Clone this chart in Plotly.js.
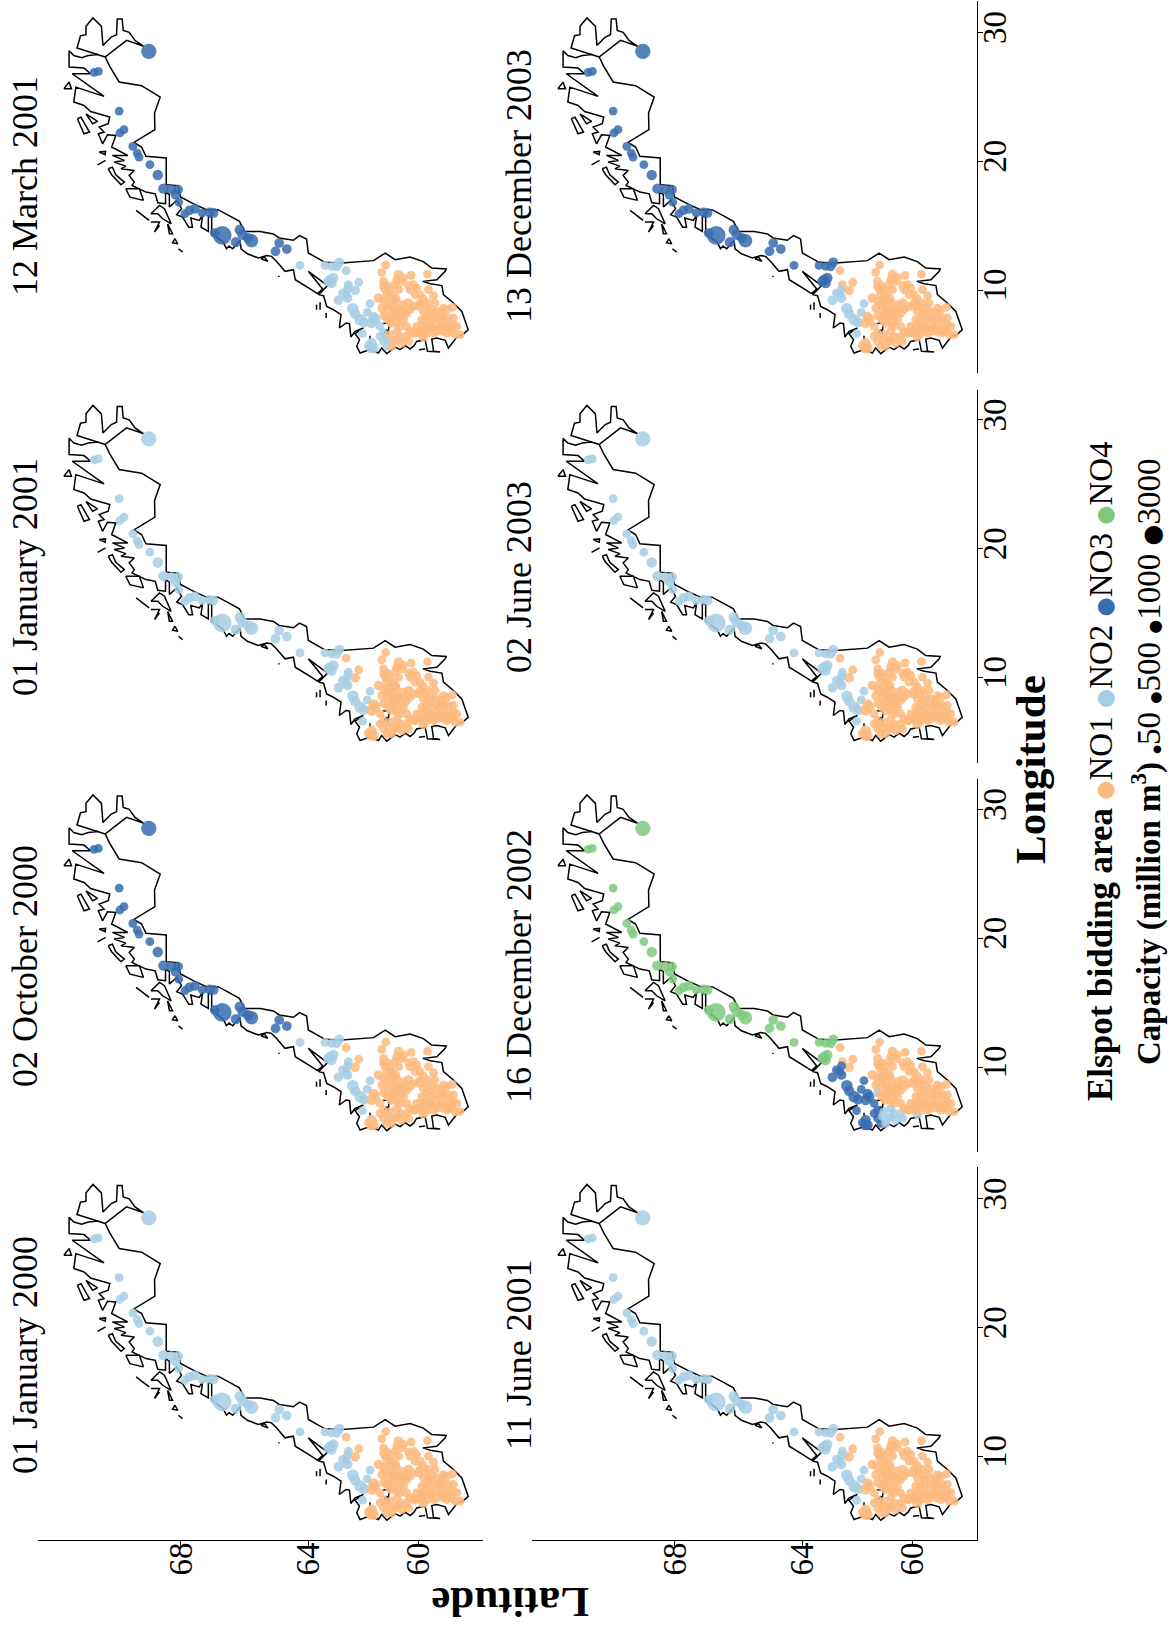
<!DOCTYPE html>
<html><head><meta charset="utf-8">
<script src="https://cdn.plot.ly/plotly-3.0.1.min.js"></script>
<style>html,body{margin:0;padding:0;background:#fff}</style></head>
<body><div id="chart" style="width:1173px;height:1630px"></div>
<script>
// Coastline and border of Norway, [latitude, longitude]; null breaks the line
const coastline = [
[70.09,28.09],[70.41,28.4],[70.62,28.58],[70.82,28.79],[70.73,29.74],[70.59,29.82],[70.59,30.47],[70.41,31.12],[70.19,30.47],[70.15,28.99],[69.93,29.64],[69.79,29.82],[69.77,31.04],[69.64,31.04],[69.61,30.16],[69.45,30.0],[69.29,29.38],[69.05,28.92],[69.52,29.38],[70.09,28.09],
[69.97,27.36],[69.72,26.15],[69.11,25.86],[68.59,24.98],[68.75,23.74],[68.74,22.45],[69.32,21.46],[69.11,21.1],[68.99,20.38],[68.42,20.25],[68.42,18.18],[68.08,18.10],[68.01,17.22],[67.64,16.70],[67.25,16.24],[66.9,16.24],[66.56,15.77],[66.24,15.33],[66.08,14.55],[65.59,14.55],[65.16,14.35],[64.97,14.04],[64.5,13.86],[64.3,14.22],[64.06,13.96],[64.0,12.87],[63.43,12.15],[62.85,12.1],[61.7,12.28],[61.27,12.87],[60.9,12.35],[60.33,12.56],[59.82,12.2],[59.49,11.71],[58.92,11.63],[58.96,11.45],[59.29,10.8],[59.84,10.67],[59.55,10.49],[59.09,10.34],[59.03,9.64],[58.63,8.99],[58.29,8.34],[58.03,6.92],[58.2,6.61],[58.49,6.35],[58.83,5.5],[58.96,6.09],[59.29,6.27],[59.49,6.19],[59.42,5.24],[59.16,5.19],[59.42,5.24],[59.66,5.24],[59.75,6.14],[60.08,6.01],[60.18,5.68],[60.33,5.42],[60.52,5.68],[60.71,5.37],[60.9,5.57],[61.21,5.06],[61.4,5.5],[61.52,5.11],[61.83,5.37],[62.19,5.11],[62.31,5.63],[62.21,6.14],[62.37,6.61],[62.07,7.05],[62.37,6.79],[62.52,6.35],[62.57,7.39],[62.69,7.44],[62.93,7.05],[62.87,8.08],[63.14,8.47],[63.37,8.73],[63.48,9.56],[63.65,9.64],[63.34,10.34],[64.0,11.45],[63.51,10.08],[63.69,9.72],[63.94,10.08],[64.44,10.8],[64.5,11.58],[64.78,11.45],[65.06,12.23],[65.22,12.61],[65.37,12.67],[65.64,12.48],[65.99,12.81],[66.19,13.2],[66.22,13.85],[66.45,13.2],[66.56,13.41],[66.64,13.2],[66.74,13.72],[67.09,14.37],[67.09,15.66],[67.19,15.74],[67.19,14.55],[67.41,14.88],[67.36,15.79],[67.46,15.4],[67.71,15.58],[67.66,14.88],[67.77,14.88],[67.95,15.66],[68.12,15.84],[67.98,16.31],[68.12,16.96],[68.33,16.44],[68.33,17.4],[68.44,17.6],[68.44,16.7],[68.66,16.77],[68.73,17.47],[68.99,17.6],[69.37,18.12],[69.31,18.38],[69.45,18.9],[69.31,19.28],[69.67,19.41],[69.54,19.62],[69.85,19.93],[69.58,20.06],[69.9,20.45],[69.49,20.45],[69.92,21.1],[69.81,22.0],[70.03,22.05],[70.16,21.35],[70.27,22.13],[70.12,22.26],[70.25,22.65],[70.01,22.91],[69.97,23.43],[70.25,23.68],[70.47,23.86],[70.64,24.33],[70.90,24.59],[70.85,25.75],[70.34,25.24],[70.12,25.03],[70.94,26.79],[70.47,26.79],[70.64,27.23],[71.02,27.31],[71.02,28.58],[70.90,28.21],[70.70,28.03],[70.53,28.21],[70.29,28.29],[70.09,28.09],null,
[71.15,25.63],[71.02,26.14],[70.96,25.63],[71.15,25.63],null,
[70.59,23.68],[70.29,23.09],[70.42,22.91],[70.59,23.68],null,
[70.81,23.3],[70.72,23.42],[70.5,22.26],[70.64,22.13],[70.81,23.3],null,
[70.25,20.71],[70.08,20.76],[70.09,20.5],[70.25,20.71],null,
[70.29,19.72],[70.08,20.06],null,
[70.01,19.41],[69.9,19.54],[69.81,18.95],[69.58,18.38],[69.67,18.17],[69.92,18.95],[70.01,19.41],null,
[69.54,17.86],[69.43,17.21],[69.06,16.96],[69.17,17.86],[69.54,17.86],null,
[69.26,16.18],[68.9,15.4],null,
[68.85,15.92],[68.61,16.57],[68.47,16.31],[68.28,15.14],[68.52,15.53],[68.66,15.92],[68.85,15.92],null,
[68.85,15.27],[68.61,15.27],[68.75,14.5],[68.61,15.01],null,
[68.38,15.14],[68.24,14.37],[68.33,14.37],[68.38,15.14],null,
[68.17,13.98],[68.09,13.59],[68.24,13.67],[68.17,13.98],null,
[68.07,13.2],[67.95,12.94],null,
[65.56,12.43],[65.34,12.22],[65.45,12.56],[65.56,12.43],null,
[63.72,8.86],[63.72,8.47],null,
[63.6,9.04],[63.6,8.47],null,
[63.39,8.21],[63.39,7.83],null,
[64.98,11.11],[64.98,11.01],null,
[61.36,7.39],[61.11,7.44],[61.17,6.53],[61.21,6.92],[61.31,6.66],null,
[61.83,6.45],[61.83,6.14],null,
[59.99,5.37],[59.75,5.42]
];

// Hydropower reservoirs grouped by how their bidding area changes: [lat, lon, capacity in million m3]
const groupA = [[68.91,28.53,1600],[70.38,26.9,100],[70.27,26.97,100],[69.72,23.89,100],[69.59,22.45,100],[69.7,22.19,100],[69.35,21.15,100],[69.23,20.63,100],[69.18,20.32,100],[68.88,19.73,100],[68.66,18.93,300],[68.5,17.87,300],[68.27,17.79,200],[68.08,17.79,200],[68.15,17.4,200],[68.06,16.83,100],[67.88,15.92,100],[67.75,16.18,200],[67.59,16.29,200],[67.37,15.98,100],[67.15,16.03,200],[67.03,15.98,200],[66.77,14.24,3000],[67.0,14.42,200],[66.35,13.72,300],[66.23,14.68,300],[66.14,14.29,300],[65.86,13.83,1000],[65.97,14.03,300],[64.97,13.65,200],[64.72,13.18,200],[65.09,13.0,200]];
const groupB = [[64.28,11.91,100],[63.43,11.91,100],[63.2,11.84,100],[63.02,11.84,200],[62.93,12.15,200]];
const groupC = [[63.31,10.67,300],[63.14,10.93,300],[63.2,10.54,300],[63.25,10.8,300]];
const groupD = [[62.69,11.5,100],[62.24,10.6,100],[62.37,9.97,200]];
const groupE = [[62.61,10.41,100]];
const groupF = [[62.64,10.08,100],[62.82,9.77,100],[62.64,9.38,200],[62.69,9.64,100],[62.96,9.2,200]];
const groupG = [[61.83,8.94,100],[62.45,8.55,500],[62.37,8.16,300],[61.93,8.27,100],[62.19,7.7,500],[62.05,7.49,300],[62.1,6.61,100]];
const groupH = [[61.7,7.9,300],[61.64,7.7,300],[61.77,7.44,300],[61.46,7.18,100],[61.33,6.66,100],[61.46,6.4,100],[61.33,6.01,100],[61.77,5.88,300],[61.79,5.5,300],[61.7,5.5,300],[61.89,5.68,100],[61.21,5.63,100]];
const groupI = [[61.15,6.14,100]];
const groupJ = [[61.33,8.01,100]];
const groupK = [[61.09,6.53,100],[60.84,6.79,100],[60.84,6.14,100],[60.9,6.01,100],[61.03,5.63,100],[60.46,6.4,100],[59.82,6.4,300],[60.71,6.4,100],[60.65,5.88,100],[60.39,6.01,100]];
const groupL = [[61.25,11.94,100],[61.4,11.37,100],[60.29,11.14,100],[59.66,11.24,100],[61.33,10.67,100],[61.19,10.34,100],[60.77,11.19,200],[60.84,10.8,100],[60.65,10.67,100],[60.39,10.34,100],[60.2,10.41,100],[60.08,10.16,100],[61.27,10.03,100],[60.77,10.03,100],[59.62,10.03,100],[59.42,9.56,100],[59.95,9.64,100],[59.82,9.3,100],[59.36,8.99,100],[61.52,9.38,200],[61.33,9.12,100],[61.09,9.25,200],[60.9,9.38,200],[60.39,8.99,200],[60.2,8.73,100],[60.58,8.86,100],[59.75,8.73,100],[59.03,8.6,100],[58.67,8.65,100],[61.4,8.6,100],[61.15,8.47,200],[60.96,8.47,200],[60.9,8.08,200],[60.71,7.96,200],[60.46,8.21,100],[59.82,8.34,100],[59.55,8.21,100],[59.29,8.34,100],[59.09,8.21,100],[58.83,7.83,100],[59.49,7.7,100],[59.16,7.7,100],[61.15,7.7,200],[60.84,7.44,200],[60.58,7.7,100],[60.46,7.18,100],[59.75,7.57,100],[60.08,7.18,100],[59.88,7.18,100],[59.55,7.18,100],[59.29,7.18,100],[59.03,7.18,100],[58.63,7.31,100],[58.83,7.31,100],[60.33,6.79,100],[60.14,6.66,100],[59.95,6.79,100],[59.68,6.66,100],[59.42,6.66,100],[59.03,6.79,100],[58.76,6.79,100],[58.36,6.53,100],
[61.21,9.64,100],[61.03,9.64,100],[60.84,9.12,100],[61.03,8.86,200],[61.21,8.86,100],[60.77,8.47,100],[60.58,8.34,100],[60.33,8.47,100],[60.0,8.73,100],[59.95,8.99,100],[59.62,8.99,100],[59.49,8.47,100],[58.89,8.47,100],[59.68,7.96,100],[59.29,7.83,100],[59.03,7.83,100],[58.63,7.83,100],[59.88,7.7,100],[58.49,7.18,100],[58.7,6.92,100],[59.29,6.79,100],[59.16,7.05,100],[59.49,7.05,100],[59.75,7.05,100],[59.88,6.66,100],[60.2,6.66,100],[58.89,6.66,100],[58.56,6.53,100],[61.21,7.83,100],[61.03,7.44,200],[60.71,7.18,100],[60.96,8.08,100],[60.71,8.47,100],[61.33,10.28,100],[61.09,10.03,100],[60.9,10.41,100],[60.58,10.93,100],[60.33,10.03,100],[60.14,9.64,100]];
const stationGroups = [groupA,groupB,groupC,groupD,groupE,groupF,groupG,groupH,groupI,groupJ,groupK,groupL];

// One panel per date; areas lists the bidding area (1-4) of groups A to L
const panelDates = ['01 January 2000','02 October 2000','01 January 2001','12 March 2001','11 June 2001','16 December 2002','02 June 2003','13 December 2003'];
const panelAreas = [
 [2,2,2,1,2,2,2,1,1,1,1,1],
 [3,2,2,1,2,2,2,1,1,1,1,1],
 [2,2,2,1,2,2,2,1,1,1,1,1],
 [3,2,2,2,2,2,2,2,2,1,1,1],
 [2,2,2,1,2,2,2,1,1,1,1,1],
 [4,4,4,1,1,3,3,3,2,2,2,1],
 [2,2,2,1,2,2,2,1,1,1,1,1],
 [3,3,3,1,1,2,2,1,1,1,1,1]
];
const areaNames = ['NO1','NO2','NO3','NO4'];
const areaColors = ['#fdba7e','#a6cee3','#386cb0','#7fc97f'];
const capacityKeys = [50,500,1000,3000];
const capacityKeyGlyph = [10,14,16,24];
const latTicks = [60,64,68];
const lonTicks = [10,20,30];

// Layout in pixels of the 1173x1630 page
const W = 1173, H = 1630, SERIF = '"Liberation Serif", serif';
const PX_PER_RAD = 741, PX_PER_DEG = 12.88;
const columns = [{left:38,right:483,lat60:418.7},{left:532,right:977,lat60:912.7}];
const rows = [
 {top:1,bottom:373,lon10:290,titleY:186},
 {top:389.5,bottom:762.5,lon10:677.5,titleY:577},
 {top:779,bottom:1152,lon10:1067,titleY:966},
 {top:1167,bottom:1540,lon10:1456.5,titleY:1355}
];
// panel order: column, row
const panelPlace = [[0,3],[0,2],[0,1],[0,0],[1,3],[1,2],[1,1],[1,0]];

const merc = lat => Math.log(Math.tan(Math.PI/4 + lat*Math.PI/360));
const sizeOf = cap => 6.6 + 0.22*Math.sqrt(cap);

const data = [], layout = {
  width:W, height:H, margin:{l:0,r:0,t:0,b:0}, showlegend:false,
  paper_bgcolor:'#fff', plot_bgcolor:'rgba(0,0,0,0)',
  font:{family:SERIF,color:'#000'}, annotations:[]
};
const coastX = coastline.map(p => p ? merc(p[0]) : null);
const coastY = coastline.map(p => p ? p[1] : null);

panelDates.forEach((date,i) => {
  const [c,r] = panelPlace[i], col = columns[c], row = rows[r], n = i+1;
  const xa = 'xaxis'+(n>1?n:''), ya = 'yaxis'+(n>1?n:'');
  const xr = 'x'+(n>1?n:''), yr = 'y'+(n>1?n:'');
  const lat0 = merc(60);
  layout[xa] = {
    domain:[col.left/W,col.right/W], anchor:yr,
    range:[lat0+(col.lat60-col.left)/PX_PER_RAD, lat0-(col.right-col.lat60)/PX_PER_RAD],
    showgrid:false, zeroline:false, visible:r===3, showline:true, linecolor:'#000', linewidth:1.4,
    ticks:'outside', ticklen:5, tickwidth:1.3, tickcolor:'#000',
    tickmode:'array', tickvals:latTicks.map(merc), ticktext:latTicks.map(String),
    tickangle:-90, ticklabelstandoff:-17, tickfont:{family:SERIF,size:33,color:'#000'}
  };
  layout[ya] = {
    domain:[1-row.bottom/H,1-row.top/H], anchor:xr, side:'right',
    range:[10+(row.lon10-row.bottom)/PX_PER_DEG, 10+(row.lon10-row.top)/PX_PER_DEG],
    showgrid:false, zeroline:false, visible:c===1, showline:true, linecolor:'#000', linewidth:1.4,
    ticks:'outside', ticklen:5, tickwidth:1.3, tickcolor:'#000',
    tickmode:'array', tickvals:lonTicks, ticktext:lonTicks.map(String),
    tickangle:-90, ticklabelstandoff:-17, tickfont:{family:SERIF,size:33,color:'#000'}
  };
  data.push({type:'scatter',mode:'lines',x:coastX,y:coastY,xaxis:xr,yaxis:yr,
    connectgaps:false,line:{color:'#000',width:1.5},hoverinfo:'skip'});
  const sx=[],sy=[],ss=[],sc=[];
  stationGroups.forEach((g,gi)=>g.forEach(s=>{
    sx.push(merc(s[0]));sy.push(s[1]);ss.push(sizeOf(s[2]));sc.push(areaColors[panelAreas[i][gi]-1]);
  }));
  data.push({type:'scatter',mode:'markers',x:sx,y:sy,xaxis:xr,yaxis:yr,
    marker:{size:ss,color:sc,opacity:0.85,line:{width:0}},name:date});
  layout.annotations.push({xref:'paper',yref:'paper',x:(col.left-13)/W,y:1-row.titleY/H,
    text:date,textangle:-90,showarrow:false,xanchor:'center',yanchor:'middle',
    font:{family:SERIF,size:36,color:'#000'}});
});

layout.annotations.push(
 {xref:'paper',yref:'paper',x:510/W,y:1-1603/H,text:'<b>Latitude</b>',textangle:180,showarrow:false,
  xanchor:'center',yanchor:'middle',font:{family:SERIF,size:43,color:'#000'}},
 {xref:'paper',yref:'paper',x:1031/W,y:1-770/H,text:'<b>Longitude</b>',textangle:-90,showarrow:false,
  xanchor:'center',yanchor:'middle',font:{family:SERIF,size:43,color:'#000'}}
);
const dot = (color,size)=>`<span style="color:${color};font-size:${size}px;font-family:'DejaVu Sans'">●</span>`;
const line1 = '<span style="font-size:35px"><b>Elspot bidding area</b></span>' +
  areaNames.map((n,i)=>' '+dot(areaColors[i],22)+n).join('');
const line2 = '<span style="font-size:33px"><b>Capacity (million m<sup>3</sup>)</b></span>' +
  capacityKeys.map((k,i)=>' '+dot('#000',capacityKeyGlyph[i])+k).join('');
layout.annotations.push(
 {xref:'paper',yref:'paper',x:1101/W,y:1-771/H,text:line1,textangle:-90,showarrow:false,
  xanchor:'center',yanchor:'middle',font:{family:SERIF,size:33,color:'#000'}},
 {xref:'paper',yref:'paper',x:1146/W,y:1-762/H,text:line2,textangle:-90,showarrow:false,
  xanchor:'center',yanchor:'middle',font:{family:SERIF,size:33,color:'#000'}}
);
Plotly.newPlot('chart',data,layout,{displayModeBar:false,responsive:false});
</script></body></html>
